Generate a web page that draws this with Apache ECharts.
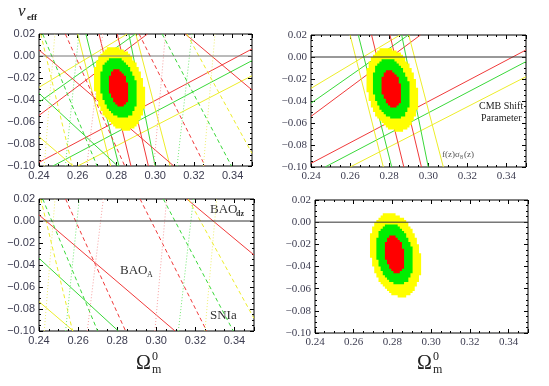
<!DOCTYPE html>
<html>
<head>
<meta charset="utf-8">
<script src="https://cdn.jsdelivr.net/npm/echarts@6/dist/echarts.min.js"></script>
<style>
html, body { margin: 0; padding: 0; background: #fff; }
#chart { width: 549px; height: 386px; }
</style>
</head>
<body>
<div id="chart"></div>
<script>
// ---- confidence regions: [cx, cy, half width, half height, shear] ----
var ellipseYellow = [0.2815, -0.0295, 0.0128, 0.0380, -0.080];
var ellipseGreen  = [0.2812, -0.0290, 0.0094, 0.0275, -0.080];
var ellipseRed    = [0.2812, -0.0292, 0.0050, 0.0170, -0.080];

// ---- CMB shift parameter (rising bands) ----
var cmbUpYellow  = [[0.240, -0.0285], [0.2855, 0.020]];
var cmbUpGreen   = [[0.240, -0.0420], [0.2898, 0.020]];
var cmbUpRed     = [[0.240, -0.0540], [0.2960, 0.020]];
var cmbLowRed    = [[0.240, -0.0967], [0.350, 0.0064]];
var cmbLowGreen  = [[0.2472, -0.100], [0.350, -0.0042]];
var cmbLowYellow = [[0.2600, -0.100], [0.350, -0.0179]];

// ---- f(z) sigma8(z) (steep bands) ----
var fsLeftYellow  = [[0.2600, 0.02], [0.2770, -0.10]];
var fsLeftGreen   = [[0.2642, 0.02], [0.2813, -0.10]];
var fsLeftRed     = [[0.2710, 0.02], [0.2875, -0.10]];
var fsRightRed    = [[0.2804, 0.02], [0.2965, -0.10]];
var fsRightGreen  = [[0.2864, 0.02], [0.3000, -0.10]];
var fsRightYellow = [[0.2900, 0.02], [0.3077, -0.10]];

// ---- BAO ----
var baoDzRed    = [[0.3156, 0.02], [0.350, -0.0309]];
var baoARed     = [[0.240, 0.0055], [0.3096, -0.10]];
var baoAGreen   = [[0.240, -0.0339], [0.2806, -0.10]];
var baoAYellow  = [[0.240, -0.0733], [0.2576, -0.10]];

// ---- SNIa (dashed) ----
var snLeftYellow  = [[0.2409, 0.02], [0.2572, -0.10]];
var snLeftGreen   = [[0.2419, 0.02], [0.2700, -0.10]];
var snLeftRed     = [[0.2536, 0.02], [0.2843, -0.10]];
var snRightRed    = [[0.2917, 0.02], [0.3258, -0.10]];
var snRightGreen  = [[0.3036, 0.02], [0.3394, -0.10]];
var snRightYellow = [[0.3164, 0.02], [0.3500, -0.0885]];

// ---- dotted bands ----
var dotLeftYellow  = [[0.2427, -0.10], [0.2482, 0.02]];
var dotLeftGreen   = [[0.2536, -0.10], [0.2606, 0.02]];
var dotLeftRed     = [[0.2647, -0.10], [0.2729, 0.02]];
var dotRightRed    = [[0.2993, -0.10], [0.3053, 0.02]];
var dotRightGreen  = [[0.3113, -0.10], [0.3190, 0.02]];
var dotRightYellow = [[0.3249, -0.10], [0.3309, 0.02]];

var zeroLine = [[0.24, 0], [0.35, 0]];

var RED = '#f03a3a', GREEN = '#3ad83a', YELLOW = '#eded2a';
var PINK = '#f6a0a0', LGREEN = '#70e870', LYELLOW = '#eeee70';

var grids = [
  { left: 39, top: 34, width: 213, height: 132 },   // top left
  { left: 311, top: 35, width: 215, height: 132 },  // top right
  { left: 39, top: 199, width: 215, height: 132 },  // bottom left
  { left: 315, top: 200, width: 213, height: 133 }  // bottom right
];
var labelFonts = ['Liberation Sans', 'Liberation Serif', 'Liberation Sans', 'Liberation Serif'];

function fmt(v) {
  if (Math.abs(v) < 1e-9) return '0.00';
  if (v > 0.345) return '';
  var s = Math.abs(v).toFixed(2);
  return v < 0 ? '\u2212' + s : s;
}

var xAxis = [], yAxis = [];
grids.forEach(function (g, i) {
  var lab = { fontFamily: labelFonts[i], fontSize: 11, color: '#3c3c50', formatter: fmt };
  var tick = { inside: true, length: 4, lineStyle: { color: '#000', width: 1 } };
  var minor = { show: true, splitNumber: 4, length: 2, lineStyle: { color: '#000', width: 1 } };
  var noLine = { show: false, onZero: false };
  xAxis.push({ type: 'value', gridIndex: i, min: 0.24, max: 0.35, interval: 0.02, position: 'bottom',
    axisLine: noLine, axisTick: tick, minorTick: minor, splitLine: { show: false },
    axisLabel: Object.assign({ margin: 4, showMaxLabel: false }, lab) });
  xAxis.push({ type: 'value', gridIndex: i, min: 0.24, max: 0.35, interval: 0.02, position: 'top',
    axisLine: noLine, axisTick: tick, minorTick: minor, splitLine: { show: false },
    axisLabel: { show: false } });
  yAxis.push({ type: 'value', gridIndex: i, min: -0.10, max: 0.02, interval: 0.02, position: 'left',
    axisLine: noLine, axisTick: tick, minorTick: minor, splitLine: { show: false },
    axisLabel: Object.assign({ margin: 4 }, lab) });
  yAxis.push({ type: 'value', gridIndex: i, min: -0.10, max: 0.02, interval: 0.02, position: 'right',
    axisLine: noLine, axisTick: tick, minorTick: minor, splitLine: { show: false },
    axisLabel: { show: false } });
});

function line(pts, color, type, gi, z) {
  return { type: 'line', data: pts, xAxisIndex: gi * 2, yAxisIndex: gi * 2, symbol: 'none',
    silent: true, animation: false, z: z || 2,
    lineStyle: { color: color, width: 1, type: type } };
}

// region plot look: the ellipse is traced on a fine cell grid (staircase edge)
var CELL_X = 0.0011, CELL_Y = 0.0020;
function renderEllipse(params, api) {
  var cx = api.value(0), cy = api.value(1), rx = api.value(2), ry = api.value(3), sh = api.value(4);
  var rows = [];
  var yTop = Math.ceil((cy + ry) / CELL_Y) * CELL_Y;
  for (var y0 = yTop; y0 > cy - ry - CELL_Y; y0 -= CELL_Y) {
    var yc = y0 - CELL_Y / 2, u = (yc - cy) / ry;
    if (Math.abs(u) >= 1) continue;
    var w = rx * Math.sqrt(1 - u * u), m = cx + sh * (yc - cy);
    rows.push([y0, y0 - CELL_Y, Math.round((m - w) / CELL_X) * CELL_X, Math.round((m + w) / CELL_X) * CELL_X]);
  }
  var pts = [];
  rows.forEach(function (r) { pts.push(api.coord([r[2], r[0]]), api.coord([r[2], r[1]])); });
  rows.slice().reverse().forEach(function (r) { pts.push(api.coord([r[3], r[1]]), api.coord([r[3], r[0]])); });
  return { type: 'polygon', shape: { points: pts }, style: { fill: api.visual('color') } };
}

function ellipses(gi) {
  return { type: 'custom', xAxisIndex: gi * 2, yAxisIndex: gi * 2, renderItem: renderEllipse,
    silent: true, animation: false, z: 5, encode: { x: 0, y: 1 },
    data: [
      { value: ellipseYellow, itemStyle: { color: '#ffff00' } },
      { value: ellipseGreen, itemStyle: { color: '#00ee00' } },
      { value: ellipseRed, itemStyle: { color: '#ff0000' } }
    ] };
}

function cmbSet(gi) {
  return [
    line(cmbUpYellow, YELLOW, 'solid', gi), line(cmbUpGreen, GREEN, 'solid', gi), line(cmbUpRed, RED, 'solid', gi),
    line(cmbLowRed, RED, 'solid', gi), line(cmbLowGreen, GREEN, 'solid', gi), line(cmbLowYellow, YELLOW, 'solid', gi),
    line(fsLeftYellow, YELLOW, 'solid', gi), line(fsLeftGreen, GREEN, 'solid', gi), line(fsLeftRed, RED, 'solid', gi),
    line(fsRightRed, RED, 'solid', gi), line(fsRightGreen, GREEN, 'solid', gi), line(fsRightYellow, YELLOW, 'solid', gi)
  ];
}
function baoSet(gi) {
  return [
    line(baoDzRed, RED, 'solid', gi), line(baoARed, RED, 'solid', gi),
    line(baoAGreen, GREEN, 'solid', gi), line(baoAYellow, YELLOW, 'solid', gi),
    line(snLeftYellow, YELLOW, [4, 3], gi), line(snLeftGreen, GREEN, [4, 3], gi), line(snLeftRed, RED, [4, 3], gi),
    line(snRightRed, RED, [4, 3], gi), line(snRightGreen, GREEN, [4, 3], gi), line(snRightYellow, YELLOW, [4, 3], gi),
    line(dotLeftYellow, LYELLOW, [1, 2], gi), line(dotLeftGreen, LGREEN, [1, 2], gi), line(dotLeftRed, PINK, [1, 2], gi),
    line(dotRightRed, PINK, [1, 2], gi), line(dotRightGreen, LGREEN, [1, 2], gi), line(dotRightYellow, LYELLOW, [1, 2], gi)
  ];
}

var series = [];
series = series.concat(cmbSet(0), baoSet(0), [ellipses(0), line(zeroLine, '#777', 'solid', 0, 6)]);
series = series.concat(cmbSet(1), [ellipses(1), line(zeroLine, '#333', 'solid', 1, 6)]);
series = series.concat(baoSet(2), [line(zeroLine, '#333', 'solid', 2, 6)]);
series = series.concat([ellipses(3), line(zeroLine, '#333', 'solid', 3, 6)]);

function omegaLabel(x) {
  return [
    { type: 'text', left: x, top: 354, style: { text: '\u03A9', font: '20px "Liberation Serif"', fill: '#222' } },
    { type: 'text', left: x + 16, top: 351, style: { text: '0', font: '12px "Liberation Serif"', fill: '#222' } },
    { type: 'text', left: x + 16, top: 364, style: { text: 'm', font: '12px "Liberation Serif"', fill: '#222' } }
  ];
}

var graphics = [
  { type: 'text', left: 18, top: 3, style: { text: '\u03BD', font: 'italic 17px "Liberation Serif"', fill: '#222' } },
  { type: 'text', left: 27, top: 13, style: { text: 'eff', font: 'bold 9px "Liberation Serif"', fill: '#222' } },
  { type: 'text', left: 479, top: 101, style: { text: 'CMB Shift', font: '10px "Liberation Serif"', fill: '#222' } },
  { type: 'text', left: 481, top: 113, style: { text: 'Parameter', font: '10px "Liberation Serif"', fill: '#222' } },
  { type: 'text', left: 442, top: 150, style: { text: 'f(z)\u03C3', font: '9px "Liberation Serif"', fill: '#555' } },
  { type: 'text', left: 460, top: 154, style: { text: '8', font: '6px "Liberation Serif"', fill: '#555' } },
  { type: 'text', left: 464, top: 150, style: { text: '(z)', font: '9px "Liberation Serif"', fill: '#555' } },
  { type: 'text', left: 210, top: 203, style: { text: 'BAO', font: '13px "Liberation Serif"', fill: '#333' } },
  { type: 'text', left: 236, top: 210, style: { text: 'dz', font: 'bold 8px "Liberation Serif"', fill: '#333' } },
  { type: 'text', left: 120, top: 264, style: { text: 'BAO', font: '13px "Liberation Serif"', fill: '#333' } },
  { type: 'text', left: 147, top: 271, style: { text: 'A', font: '8px "Liberation Serif"', fill: '#333' } },
  { type: 'text', left: 210, top: 309, style: { text: 'SNIa', font: '13px "Liberation Serif"', fill: '#333' } }
].concat(omegaLabel(136), omegaLabel(417));

var chart = echarts.init(document.getElementById('chart'), null, { renderer: 'canvas' });
chart.setOption({
  animation: false,
  backgroundColor: '#fff',
  grid: grids.map(function (g) {
    return Object.assign({ show: true, borderColor: '#000', borderWidth: 1, backgroundColor: 'transparent' }, g);
  }),
  xAxis: xAxis,
  yAxis: yAxis,
  series: series,
  graphic: graphics
});
</script>
</body>
</html>
